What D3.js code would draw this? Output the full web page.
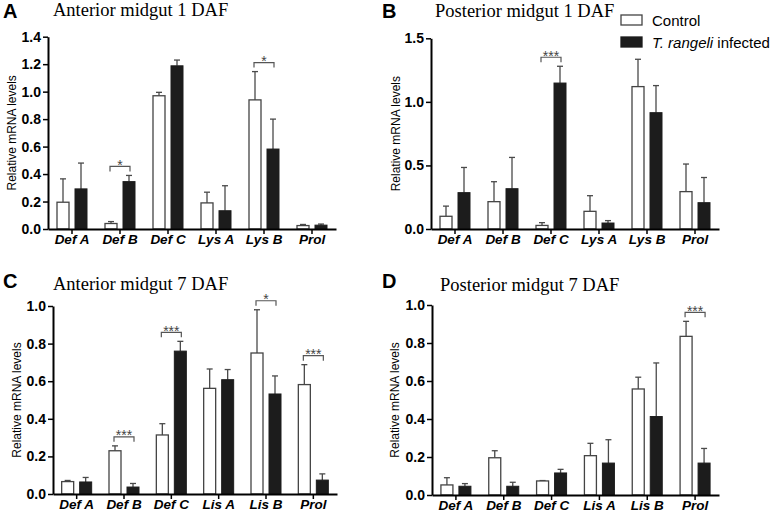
<!DOCTYPE html>
<html>
<head>
<meta charset="utf-8">
<script src="https://cdn.jsdelivr.net/npm/d3@7/dist/d3.min.js"></script>
<style>
  html, body { margin: 0; padding: 0; background: #fff; }
  svg { display: block; }
</style>
</head>
<body>
<svg id="chart" width="778" height="512"></svg>
<script>
// ---------------- DATA ----------------
const genes1 = ["Def A", "Def B", "Def C", "Lys A", "Lys B", "Prol"];
const genes7 = ["Def A", "Def B", "Def C", "Lis A", "Lis B", "Prol"];

// Panel A: Anterior midgut 1 DAF
const ctrlA = [0.195, 0.040, 0.970, 0.190, 0.940, 0.025];
const ctrlA_sd = [0.170, 0.014, 0.025, 0.078, 0.206, 0.008];
const infA = [0.292, 0.345, 1.188, 0.133, 0.582, 0.028];
const infA_sd = [0.188, 0.045, 0.042, 0.182, 0.218, 0.008];
const sigA = ["", "*", "", "", "*", ""];

// Panel B: Posterior midgut 1 DAF
const ctrlB = [0.100, 0.215, 0.028, 0.139, 1.120, 0.294];
const ctrlB_sd = [0.080, 0.157, 0.022, 0.123, 0.215, 0.217];
const infB = [0.286, 0.317, 1.148, 0.047, 0.915, 0.207];
const infB_sd = [0.198, 0.246, 0.132, 0.019, 0.213, 0.198];
const sigB = ["", "", "***", "", "", ""];

// Panel C: Anterior midgut 7 DAF
const ctrlC = [0.066, 0.230, 0.314, 0.562, 0.750, 0.582];
const ctrlC_sd = [0.006, 0.026, 0.060, 0.103, 0.230, 0.106];
const infC = [0.064, 0.037, 0.760, 0.608, 0.532, 0.074];
const infC_sd = [0.024, 0.019, 0.052, 0.054, 0.096, 0.033];
const sigC = ["", "***", "***", "", "*", "***"];

// Panel D: Posterior midgut 7 DAF
const ctrlD = [0.053, 0.196, 0.074, 0.207, 0.558, 0.835];
const ctrlD_sd = [0.038, 0.037, 0.002, 0.065, 0.062, 0.079];
const infD = [0.046, 0.046, 0.116, 0.168, 0.413, 0.168];
const infD_sd = [0.014, 0.021, 0.019, 0.123, 0.282, 0.077];
const sigD = ["", "", "", "", "", "***"];

const ticksA = [0, 0.2, 0.4, 0.6, 0.8, 1.0, 1.2, 1.4];
const ticksB = [0, 0.5, 1.0, 1.5];
const ticks7 = [0, 0.2, 0.4, 0.6, 0.8, 1.0];

const seriesNames = ["Control", "T. rangeli infected"];

// ---------------- LAYOUT ----------------
const panels = [
  { letter: "A", title: "Anterior midgut 1 DAF", genes: genes1, c: ctrlA, cs: ctrlA_sd, i: infA, is: infA_sd, sig: sigA,
    ymax: 1.4, ticks: ticksA, x0: 48, x1: 336, yTop: 36.7, yBot: 229, letterX: 3, letterY: 18, titleX: 53, titleY: 16, ytX: 12 },
  { letter: "B", title: "Posterior midgut 1 DAF", genes: genes1, c: ctrlB, cs: ctrlB_sd, i: infB, is: infB_sd, sig: sigB,
    ymax: 1.5, ticks: ticksB, x0: 431, x1: 719, yTop: 38.3, yBot: 229, letterX: 382, letterY: 18, titleX: 435, titleY: 17, ytX: 396 },
  { letter: "C", title: "Anterior midgut 7 DAF", genes: genes7, c: ctrlC, cs: ctrlC_sd, i: infC, is: infC_sd, sig: sigC,
    ymax: 1.0, ticks: ticks7, x0: 53, x1: 337, yTop: 306, yBot: 494, letterX: 3, letterY: 288, titleX: 53, titleY: 290, ytX: 17 },
  { letter: "D", title: "Posterior midgut 7 DAF", genes: genes7, c: ctrlD, cs: ctrlD_sd, i: infD, is: infD_sd, sig: sigD,
    ymax: 1.0, ticks: ticks7, x0: 432, x1: 719, yTop: 305, yBot: 495, letterX: 382, letterY: 288, titleX: 440, titleY: 291, ytX: 395 }
];

const svg = d3.select("#chart");
const SANS = "'Liberation Sans', Arial, sans-serif";
const SERIF = "'Liberation Serif', 'Times New Roman', serif";
const barW = 12, gap = 3;
const errColor = "#4a4a4a";

panels.forEach(p => {
  const g = svg.append("g");
  const x = d3.scaleBand().domain(p.genes).range([p.x0, p.x1]);
  const y = d3.scaleLinear().domain([0, p.ymax]).range([p.yBot, p.yTop]);
  const cx = d => x(d) + x.bandwidth() / 2;

  // letter and title
  g.append("text").attr("x", p.letterX).attr("y", p.letterY).attr("text-anchor", "start")
    .attr("font-family", SANS).attr("font-weight", "bold").attr("font-size", 20).text(p.letter);
  g.append("text").attr("x", p.titleX).attr("y", p.titleY).attr("text-anchor", "start")
    .attr("font-family", SERIF).attr("font-size", 18.5).text(p.title);

  // y axis title
  g.append("text")
    .attr("transform", `translate(${p.ytX},${(p.yTop + p.yBot) / 2}) rotate(-90)`)
    .attr("text-anchor", "middle").attr("dominant-baseline", "central")
    .attr("font-family", SANS).attr("font-size", 12).text("Relative mRNA levels");

  const rows = p.genes.map((gname, k) => ({ gene: gname, c: p.c[k], cs: p.cs[k], i: p.i[k], is: p.is[k], sig: p.sig[k] }));

  // error bars (upper only)
  const errs = [];
  rows.forEach(r => {
    errs.push({ xc: cx(r.gene) - gap - barW / 2, v: r.c, e: r.cs });
    errs.push({ xc: cx(r.gene) + gap + barW / 2, v: r.i, e: r.is });
  });
  const eg = g.append("g").attr("stroke", errColor).attr("stroke-width", 1.3).attr("fill", "none");
  eg.selectAll(".ev").data(errs).join("line")
    .attr("x1", d => d.xc).attr("x2", d => d.xc)
    .attr("y1", d => y(d.v)).attr("y2", d => y(d.v + d.e));
  eg.selectAll(".ec").data(errs).join("line")
    .attr("x1", d => d.xc - 3).attr("x2", d => d.xc + 3)
    .attr("y1", d => y(d.v + d.e)).attr("y2", d => y(d.v + d.e));

  // bars
  g.selectAll(".bc").data(rows).join("rect")
    .attr("x", d => cx(d.gene) - gap - barW).attr("width", barW)
    .attr("y", d => y(d.c)).attr("height", d => y(0) - y(d.c))
    .attr("fill", "#fff").attr("stroke", "#444").attr("stroke-width", 1.3);
  g.selectAll(".bi").data(rows).join("rect")
    .attr("x", d => cx(d.gene) + gap).attr("width", barW)
    .attr("y", d => y(d.i)).attr("height", d => y(0) - y(d.i))
    .attr("fill", "#1c1c1c").attr("stroke", "#1c1c1c").attr("stroke-width", 1);

  // significance brackets
  const sigRows = rows.filter(r => r.sig);
  sigRows.forEach(r => {
    const top = Math.min(y(r.c + r.cs), y(r.i + r.is)) - 9;
    const xl = cx(r.gene) - 10, xr = cx(r.gene) + 10;
    g.append("path")
      .attr("d", `M${xl},${top + 5}V${top}H${xr}V${top + 5}`)
      .attr("fill", "none").attr("stroke", "#555").attr("stroke-width", 1.2);
    g.append("text").attr("x", (xl + xr) / 2).attr("y", top + 3.5)
      .attr("text-anchor", "middle").attr("font-family", SANS).attr("font-size", 14)
      .attr("fill", "#444").text(r.sig);
  });

  // axes
  const yAxis = d3.axisLeft(y).tickValues(p.ticks).tickFormat(d3.format(".1f"))
    .tickSize(5).tickSizeOuter(0).tickPadding(2);
  const ya = g.append("g").attr("transform", `translate(${p.x0},0)`).call(yAxis);
  ya.select(".domain").attr("stroke", "#000").attr("stroke-width", 2);
  ya.selectAll(".tick line").attr("stroke", "#000").attr("stroke-width", 1.5);
  ya.selectAll(".tick text").attr("font-family", SANS).attr("font-weight", "bold")
    .attr("font-size", 14).attr("fill", "#000");

  const xAxis = d3.axisBottom(x).tickSize(5).tickSizeOuter(0).tickPadding(0);
  const xa = g.append("g").attr("transform", `translate(0,${p.yBot})`).call(xAxis);
  xa.select(".domain").attr("stroke", "#000").attr("stroke-width", 2);
  xa.selectAll(".tick line").attr("stroke", "#000").attr("stroke-width", 1.5);
  xa.selectAll(".tick text").attr("font-family", SANS).attr("font-weight", "bold")
    .attr("font-style", "italic").attr("font-size", 13.5).attr("fill", "#000");
});

// ---------------- LEGEND ----------------
const leg = svg.append("g");
const legItems = [
  { name: seriesNames[0], fill: "#fff", stroke: "#444", y: 20 },
  { name: seriesNames[1], fill: "#1c1c1c", stroke: "#1c1c1c", y: 42 }
];
legItems.forEach(it => {
  leg.append("rect").attr("x", 621).attr("y", it.y - 5).attr("width", 21).attr("height", 10)
    .attr("fill", it.fill).attr("stroke", it.stroke).attr("stroke-width", 1.3);
});
leg.append("text").attr("x", 652).attr("y", legItems[0].y + 5.5)
  .attr("font-family", SANS).attr("font-size", 15).text("Control");
const t2 = leg.append("text").attr("x", 652).attr("y", legItems[1].y + 5.5)
  .attr("font-family", SANS).attr("font-size", 15);
t2.append("tspan").attr("font-style", "italic").text("T. rangeli");
t2.append("tspan").text(" infected");
</script>
</body>
</html>
